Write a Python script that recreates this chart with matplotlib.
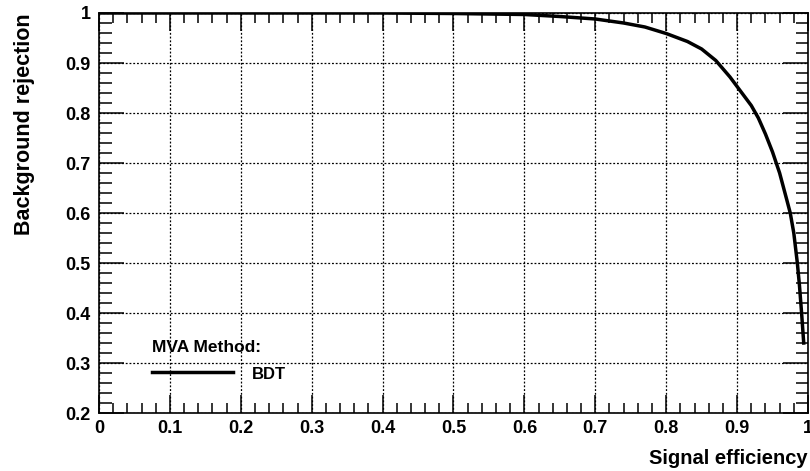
import matplotlib
matplotlib.use("Agg")
import matplotlib.pyplot as plt
from matplotlib.ticker import MultipleLocator

plt.rcParams['font.family'] = ['Liberation Sans', 'DejaVu Sans']
plt.rcParams['font.weight'] = 'bold'

# ROC curve for BDT
sig_eff = [0.0, 0.1, 0.2, 0.3, 0.4, 0.5, 0.55, 0.6, 0.65, 0.7, 0.74, 0.77, 0.8,
           0.83, 0.85, 0.87, 0.89, 0.9, 0.92, 0.93, 0.94, 0.95, 0.96, 0.97, 0.975,
           0.98, 0.985, 0.988, 0.991, 0.994]
bkg_rej = [1.0, 1.0, 1.0, 1.0, 1.0, 0.999, 0.998, 0.997, 0.993, 0.988, 0.98, 0.972, 0.959,
           0.943, 0.928, 0.905, 0.872, 0.853, 0.815, 0.79, 0.758, 0.722, 0.68, 0.627, 0.60,
           0.56, 0.50, 0.455, 0.40, 0.34]
method_name = 'BDT'
x_ticks = [0, 0.1, 0.2, 0.3, 0.4, 0.5, 0.6, 0.7, 0.8, 0.9, 1]
x_tick_labels = ['0', '0.1', '0.2', '0.3', '0.4', '0.5', '0.6', '0.7', '0.8', '0.9', '1']
y_ticks = [0.2, 0.3, 0.4, 0.5, 0.6, 0.7, 0.8, 0.9, 1]
y_tick_labels = ['0.2', '0.3', '0.4', '0.5', '0.6', '0.7', '0.8', '0.9', '1']

fig = plt.figure(figsize=(8.1, 4.71), dpi=100)
ax = fig.add_axes([0.1222, 0.1231, 0.8753, 0.8493])

ax.plot(sig_eff, bkg_rej, color='black', linewidth=2.5, label=method_name, zorder=3,
        solid_joinstyle='round')

ax.set_xlim(0, 1)
ax.set_ylim(0.2, 1)
ax.set_xticks(x_ticks)
ax.set_xticklabels(x_tick_labels)
ax.set_yticks(y_ticks)
ax.set_yticklabels(y_tick_labels)
ax.xaxis.set_minor_locator(MultipleLocator(0.02))
ax.yaxis.set_minor_locator(MultipleLocator(0.02))

ax.tick_params(which='both', direction='in', top=True, right=True, width=1.1,
               labelsize=13, colors='black')
ax.tick_params(axis='x', which='major', length=13, pad=5)
ax.tick_params(axis='x', which='minor', length=7)
ax.tick_params(axis='y', which='major', length=18, pad=6)
ax.tick_params(axis='y', which='minor', length=9)
for lab in ax.get_xticklabels() + ax.get_yticklabels():
    lab.set_fontweight('bold')

ax.grid(True, which='major', linestyle=(0, (1.5, 1.5)), color='black', linewidth=0.9)
for s in ax.spines.values():
    s.set_linewidth(1.2)

ax.set_xlabel('Signal efficiency', fontsize=14.5, fontweight='bold', loc='right', labelpad=9)
ax.set_ylabel('Background rejection', fontsize=15.5, fontweight='bold', loc='top', labelpad=22)

leg = ax.legend(title='MVA Method:', loc='lower left', bbox_to_anchor=(0.053, 0.035),
                frameon=False, handlelength=4.9, handleheight=1.5, handletextpad=1.1,
                alignment='left',
                prop={'weight': 'bold', 'size': 12},
                title_fontproperties={'weight': 'bold', 'size': 12.5})

fig.savefig('out.png', dpi=100)
